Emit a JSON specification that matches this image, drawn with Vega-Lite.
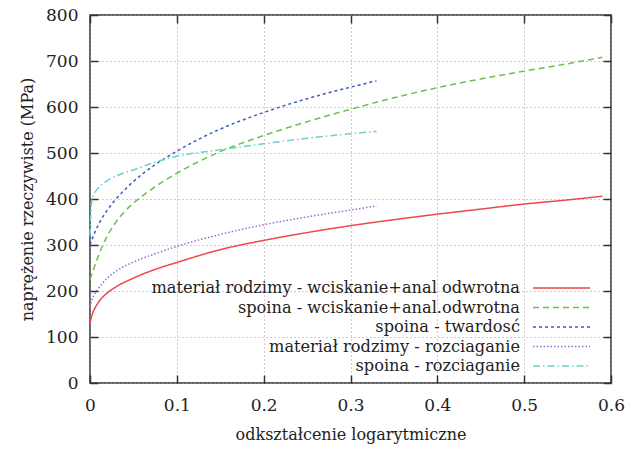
{
  "$schema": "https://vega.github.io/schema/vega-lite/v6.json",
  "width": 521,
  "height": 368,
  "autosize": {"type": "none"},
  "padding": {"left": 90, "top": 15, "right": 24, "bottom": 66},
  "background": "white",
  "config": {
    "font": "DejaVu Serif",
    "view": {"stroke": "#333333", "strokeWidth": 1.5},
    "axis": {
      "labelFont": "DejaVu Serif",
      "titleFont": "DejaVu Serif",
      "labelFontSize": 17,
      "titleFontSize": 16,
      "labelColor": "#222222",
      "titleColor": "#222222",
      "titleFontWeight": "normal",
      "labelFlush": false,
      "labelOverlap": false,
      "domain": false,
      "tickColor": "#333333",
      "tickWidth": 1.5,
      "tickSize": -8,
      "gridColor": "#9a9a9a",
      "gridDash": [1, 3],
      "gridWidth": 1
    },
    "legend": {
      "labelFont": "DejaVu Serif",
      "labelFontSize": 16.2,
      "labelColor": "#222222"
    }
  },
  "data": {
    "values": [
      {"s": "materiał rodzimy - wciskanie+anal odwrotna", "x": 0, "y": 130},
      {"s": "materiał rodzimy - wciskanie+anal odwrotna", "x": 0.002, "y": 146},
      {"s": "materiał rodzimy - wciskanie+anal odwrotna", "x": 0.005, "y": 160},
      {"s": "materiał rodzimy - wciskanie+anal odwrotna", "x": 0.01, "y": 176},
      {"s": "materiał rodzimy - wciskanie+anal odwrotna", "x": 0.02, "y": 196},
      {"s": "materiał rodzimy - wciskanie+anal odwrotna", "x": 0.03, "y": 209},
      {"s": "materiał rodzimy - wciskanie+anal odwrotna", "x": 0.05, "y": 228},
      {"s": "materiał rodzimy - wciskanie+anal odwrotna", "x": 0.075, "y": 247},
      {"s": "materiał rodzimy - wciskanie+anal odwrotna", "x": 0.1, "y": 262},
      {"s": "materiał rodzimy - wciskanie+anal odwrotna", "x": 0.15, "y": 290},
      {"s": "materiał rodzimy - wciskanie+anal odwrotna", "x": 0.2, "y": 310},
      {"s": "materiał rodzimy - wciskanie+anal odwrotna", "x": 0.25, "y": 327},
      {"s": "materiał rodzimy - wciskanie+anal odwrotna", "x": 0.3, "y": 342},
      {"s": "materiał rodzimy - wciskanie+anal odwrotna", "x": 0.35, "y": 355},
      {"s": "materiał rodzimy - wciskanie+anal odwrotna", "x": 0.4, "y": 367},
      {"s": "materiał rodzimy - wciskanie+anal odwrotna", "x": 0.45, "y": 378},
      {"s": "materiał rodzimy - wciskanie+anal odwrotna", "x": 0.5, "y": 389},
      {"s": "materiał rodzimy - wciskanie+anal odwrotna", "x": 0.55, "y": 398},
      {"s": "materiał rodzimy - wciskanie+anal odwrotna", "x": 0.59, "y": 406},

      {"s": "spoina - wciskanie+anal.odwrotna", "x": 0, "y": 225},
      {"s": "spoina - wciskanie+anal.odwrotna", "x": 0.005, "y": 252},
      {"s": "spoina - wciskanie+anal.odwrotna", "x": 0.01, "y": 278},
      {"s": "spoina - wciskanie+anal.odwrotna", "x": 0.02, "y": 320},
      {"s": "spoina - wciskanie+anal.odwrotna", "x": 0.03, "y": 350},
      {"s": "spoina - wciskanie+anal.odwrotna", "x": 0.04, "y": 373},
      {"s": "spoina - wciskanie+anal.odwrotna", "x": 0.05, "y": 391},
      {"s": "spoina - wciskanie+anal.odwrotna", "x": 0.07, "y": 420},
      {"s": "spoina - wciskanie+anal.odwrotna", "x": 0.1, "y": 456},
      {"s": "spoina - wciskanie+anal.odwrotna", "x": 0.15, "y": 503},
      {"s": "spoina - wciskanie+anal.odwrotna", "x": 0.2, "y": 538},
      {"s": "spoina - wciskanie+anal.odwrotna", "x": 0.25, "y": 568},
      {"s": "spoina - wciskanie+anal.odwrotna", "x": 0.3, "y": 595},
      {"s": "spoina - wciskanie+anal.odwrotna", "x": 0.35, "y": 620},
      {"s": "spoina - wciskanie+anal.odwrotna", "x": 0.4, "y": 642},
      {"s": "spoina - wciskanie+anal.odwrotna", "x": 0.45, "y": 661},
      {"s": "spoina - wciskanie+anal.odwrotna", "x": 0.5, "y": 678},
      {"s": "spoina - wciskanie+anal.odwrotna", "x": 0.55, "y": 694},
      {"s": "spoina - wciskanie+anal.odwrotna", "x": 0.59, "y": 708},

      {"s": "spoina - twardosć", "x": 0, "y": 300},
      {"s": "spoina - twardosć", "x": 0.005, "y": 325},
      {"s": "spoina - twardosć", "x": 0.01, "y": 345},
      {"s": "spoina - twardosć", "x": 0.02, "y": 376},
      {"s": "spoina - twardosć", "x": 0.03, "y": 400},
      {"s": "spoina - twardosć", "x": 0.04, "y": 420},
      {"s": "spoina - twardosć", "x": 0.05, "y": 438},
      {"s": "spoina - twardosć", "x": 0.07, "y": 468},
      {"s": "spoina - twardosć", "x": 0.1, "y": 504},
      {"s": "spoina - twardosć", "x": 0.15, "y": 552},
      {"s": "spoina - twardosć", "x": 0.2, "y": 588},
      {"s": "spoina - twardosć", "x": 0.25, "y": 618},
      {"s": "spoina - twardosć", "x": 0.3, "y": 643},
      {"s": "spoina - twardosć", "x": 0.33, "y": 657},

      {"s": "materiał rodzimy - rozciaganie", "x": 0, "y": 165},
      {"s": "materiał rodzimy - rozciaganie", "x": 0.002, "y": 180},
      {"s": "materiał rodzimy - rozciaganie", "x": 0.005, "y": 192},
      {"s": "materiał rodzimy - rozciaganie", "x": 0.01, "y": 206},
      {"s": "materiał rodzimy - rozciaganie", "x": 0.02, "y": 228},
      {"s": "materiał rodzimy - rozciaganie", "x": 0.03, "y": 243},
      {"s": "materiał rodzimy - rozciaganie", "x": 0.05, "y": 263},
      {"s": "materiał rodzimy - rozciaganie", "x": 0.075, "y": 281},
      {"s": "materiał rodzimy - rozciaganie", "x": 0.1, "y": 297},
      {"s": "materiał rodzimy - rozciaganie", "x": 0.15, "y": 323},
      {"s": "materiał rodzimy - rozciaganie", "x": 0.2, "y": 344},
      {"s": "materiał rodzimy - rozciaganie", "x": 0.25, "y": 361},
      {"s": "materiał rodzimy - rozciaganie", "x": 0.3, "y": 376},
      {"s": "materiał rodzimy - rozciaganie", "x": 0.33, "y": 385},

      {"s": "spoina - rozciaganie", "x": 0, "y": 320},
      {"s": "spoina - rozciaganie", "x": 0.001, "y": 370},
      {"s": "spoina - rozciaganie", "x": 0.002, "y": 395},
      {"s": "spoina - rozciaganie", "x": 0.005, "y": 412},
      {"s": "spoina - rozciaganie", "x": 0.01, "y": 425},
      {"s": "spoina - rozciaganie", "x": 0.02, "y": 440},
      {"s": "spoina - rozciaganie", "x": 0.03, "y": 450},
      {"s": "spoina - rozciaganie", "x": 0.04, "y": 457},
      {"s": "spoina - rozciaganie", "x": 0.05, "y": 463},
      {"s": "spoina - rozciaganie", "x": 0.07, "y": 477},
      {"s": "spoina - rozciaganie", "x": 0.1, "y": 493},
      {"s": "spoina - rozciaganie", "x": 0.15, "y": 507},
      {"s": "spoina - rozciaganie", "x": 0.2, "y": 520},
      {"s": "spoina - rozciaganie", "x": 0.25, "y": 532},
      {"s": "spoina - rozciaganie", "x": 0.3, "y": 542},
      {"s": "spoina - rozciaganie", "x": 0.33, "y": 547}
    ]
  },
  "resolve": {"axis": {"x": "independent", "y": "independent"}},
  "layer": [
    {
      "mark": {"type": "line", "strokeWidth": 1.5, "interpolate": "monotone"},
      "encoding": {
        "x": {
          "field": "x", "type": "quantitative",
          "scale": {"domain": [0, 0.6], "nice": false, "zero": false},
          "axis": {
            "orient": "bottom",
            "values": [0, 0.1, 0.2, 0.3, 0.4, 0.5, 0.6],
            "format": ".1~f",
            "labelPadding": 22,
            "title": "odkształcenie logarytmiczne",
            "titlePadding": 13,
            "grid": true
          }
        },
        "y": {
          "field": "y", "type": "quantitative",
          "scale": {"domain": [0, 800], "nice": false},
          "axis": {
            "orient": "left",
            "values": [0, 100, 200, 300, 400, 500, 600, 700, 800],
            "labelPadding": 20,
            "title": "naprężenie rzeczywiste (MPa)",
            "titlePadding": 10,
            "grid": true
          }
        },
        "color": {
          "field": "s", "type": "nominal",
          "scale": {
            "domain": [
              "materiał rodzimy - wciskanie+anal odwrotna",
              "spoina - wciskanie+anal.odwrotna",
              "spoina - twardosć",
              "materiał rodzimy - rozciaganie",
              "spoina - rozciaganie"
            ],
            "range": ["#ee4848", "#6cbf4c", "#3a5cc0", "#9a6ccc", "#6ccfd0"]
          },
          "legend": {
            "title": null,
            "orient": "none",
            "legendX": 442,
            "legendY": 263,
            "padding": 0,
            "symbolType": "stroke",
            "symbolSize": 3249,
            "symbolStrokeWidth": 1.5,
            "rowPadding": 0.5,
            "labelAlign": "right",
            "labelOffset": -71,
            "labelLimit": 500,
            "encode": {
              "symbols": {"update": {"y": {"value": 10}}},
              "labels": {"update": {"y": {"value": 10}}}
            }
          }
        },
        "strokeDash": {
          "field": "s", "type": "nominal",
          "scale": {
            "domain": [
              "materiał rodzimy - wciskanie+anal odwrotna",
              "spoina - wciskanie+anal.odwrotna",
              "spoina - twardosć",
              "materiał rodzimy - rozciaganie",
              "spoina - rozciaganie"
            ],
            "range": [[1, 0], [6, 4], [3, 3], [1.5, 2], [7, 3, 1.5, 3]]
          },
          "legend": {
            "title": null,
            "orient": "none",
            "legendX": 442,
            "legendY": 263,
            "padding": 0,
            "symbolType": "stroke",
            "symbolSize": 3249,
            "symbolStrokeWidth": 1.5,
            "rowPadding": 0.5,
            "labelAlign": "right",
            "labelOffset": -71,
            "labelLimit": 500,
            "encode": {
              "symbols": {"update": {"y": {"value": 10}}},
              "labels": {"update": {"y": {"value": 10}}}
            }
          }
        }
      }
    },
    {
      "mark": {"type": "point", "opacity": 0},
      "encoding": {
        "x": {
          "field": "x", "type": "quantitative",
          "axis": {
            "orient": "top",
            "values": [0, 0.1, 0.2, 0.3, 0.4, 0.5, 0.6],
            "labels": false,
            "title": null,
            "grid": false
          }
        },
        "y": {
          "field": "y", "type": "quantitative",
          "axis": {
            "orient": "right",
            "values": [0, 100, 200, 300, 400, 500, 600, 700, 800],
            "labels": false,
            "title": null,
            "grid": false
          }
        }
      }
    }
  ]
}
